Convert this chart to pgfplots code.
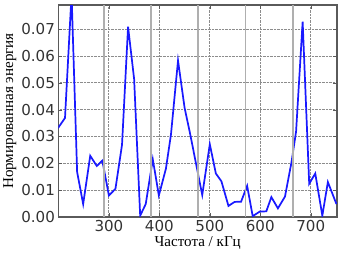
\documentclass[border=0pt]{standalone}
\usepackage{fontspec}
\setmainfont{Liberation Serif}
\newfontfamily\dejavu{DejaVu Sans}
\usepackage{pgfplots}
\pgfplotsset{compat=1.18}
\definecolor{frame}{RGB}{90,90,90}
\definecolor{ticklab}{RGB}{51,51,51}
\definecolor{vgray}{RGB}{175,175,175}
\definecolor{gridc}{RGB}{140,140,140}
\pgfplotstableread{
x y
199 0.0331
213 0.0369
226 0.0830
237 0.0168
249 0.0048
263 0.0228
276 0.0190
287 0.0210
300 0.0080
313 0.0105
326 0.0269
338 0.0709
350 0.0514
362 0.0005
373 0.0048
387 0.0215
399 0.0080
413 0.0180
423 0.0307
437 0.0583
450 0.0407
461 0.0310
474 0.0186
485 0.0082
500 0.0271
512 0.0162
523 0.0133
537 0.0041
549 0.0056
562 0.0057
574 0.0116
585 0.0003
599 0.0020
612 0.0021
622 0.0074
635 0.0032
649 0.0076
662 0.0205
671 0.0319
684 0.0728
697 0.0124
709 0.0162
723 0.0005
734 0.0130
751 0.0048
}\energy
\begin{document}
\begin{tikzpicture}
\begin{axis}[
  scale only axis, width=276bp, height=210bp,
  xmin=200, xmax=752, ymin=0, ymax=0.079,
  xtick={300,400,500,600,700},
  ytick={0,0.01,0.02,0.03,0.04,0.05,0.06,0.07},
  scaled y ticks=false,
  yticklabel style={/pgf/number format/.cd,fixed,fixed zerofill,precision=2},
  /pgf/number format/assume math mode=true,
  tick label style={font=\dejavu\fontsize{15}{18}\selectfont, text=ticklab},
  xtick pos=both, ytick pos=both,
  tick align=inside,
  major tick length=4bp,
  tick style={frame},
  axis line style={frame, line width=1.4bp},
  grid=major,
  grid style={gridc, densely dotted, line width=0.8bp},
  xlabel={Частота / кГц},
  ylabel={Нормированная энергия},
  label style={font=\fontsize{15}{18}\selectfont},
  xlabel style={yshift=2bp},
  ylabel style={yshift=-2bp},
]
\addplot[color={rgb,255:red,25;green,25;blue,255}, line width=1.7bp] table[x=x,y=y] {\energy};
\addplot[vgray, line width=1.6bp] coordinates {(290,0) (290,0.079)};
\addplot[vgray, line width=1.6bp] coordinates {(384,0) (384,0.079)};
\addplot[vgray, line width=1.6bp] coordinates {(477,0) (477,0.079)};
\addplot[vgray, line width=1.6bp] coordinates {(571,0) (571,0.079)};
\addplot[vgray, line width=1.6bp] coordinates {(665,0) (665,0.079)};
\coordinate (ne) at (rel axis cs:1,1);
\end{axis}
\path ([shift={(5bp,5bp)}]ne);
\end{tikzpicture}
\end{document}
